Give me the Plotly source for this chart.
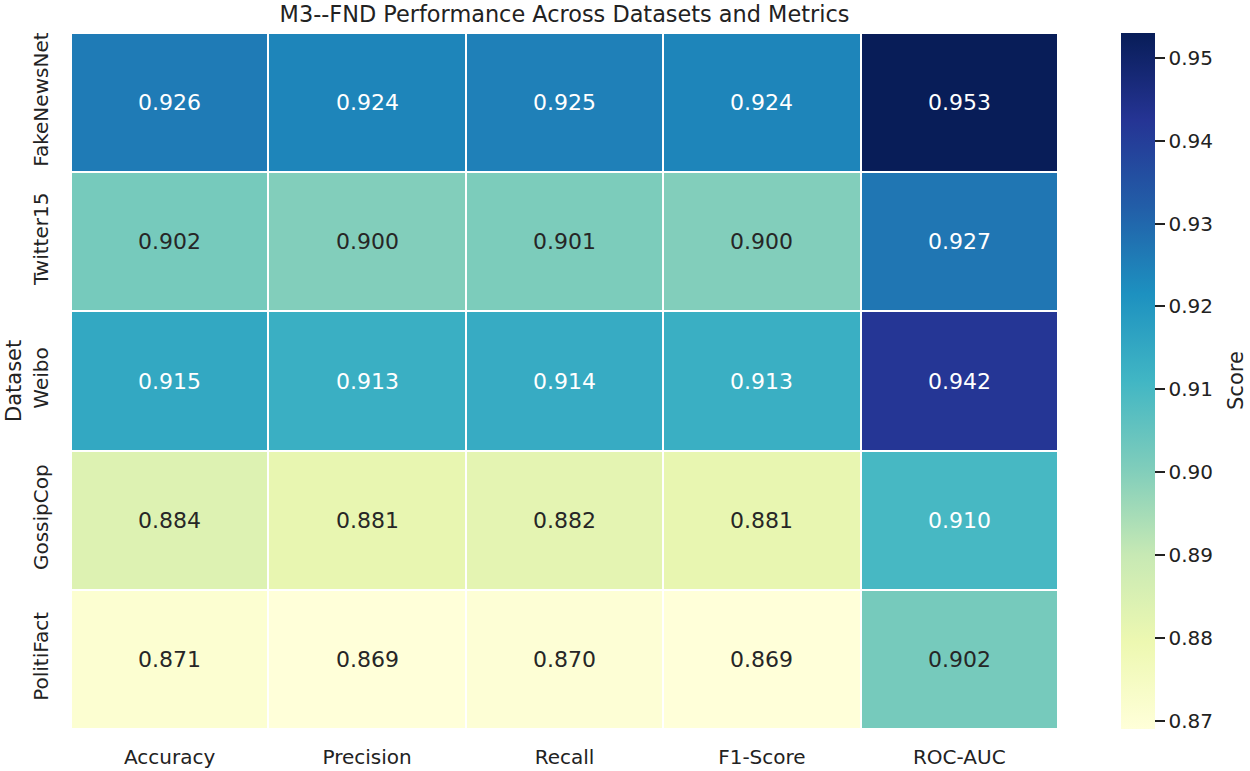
import plotly.graph_objects as go

datasets = ["FakeNewsNet", "Twitter15", "Weibo", "GossipCop", "PolitiFact"]
metrics = ["Accuracy", "Precision", "Recall", "F1-Score", "ROC-AUC"]
scores = [
    [0.926, 0.924, 0.925, 0.924, 0.953],
    [0.902, 0.900, 0.901, 0.900, 0.927],
    [0.915, 0.913, 0.914, 0.913, 0.942],
    [0.884, 0.881, 0.882, 0.881, 0.910],
    [0.871, 0.869, 0.870, 0.869, 0.902],
]
zmin, zmax = 0.869, 0.953
cbar_ticks = [0.87, 0.88, 0.89, 0.90, 0.91, 0.92, 0.93, 0.94, 0.95]

ylgnbu = ['#ffffd9', '#edf8b1', '#c7e9b4', '#7fcdbb', '#41b6c4',
          '#1d91c0', '#225ea8', '#253494', '#081d58']
colorscale = [[i / (len(ylgnbu) - 1), c] for i, c in enumerate(ylgnbu)]

FONT = "DejaVu Sans"
TXT = "#222222"

W, H = 1250, 771
L, R, T, B = 71, 192, 33, 42
plot_w = W - L - R

fig = go.Figure(go.Heatmap(
    z=scores, x=metrics, y=datasets,
    colorscale=colorscale, zmin=zmin, zmax=zmax,
    xgap=2, ygap=2,
    colorbar=dict(
        thickness=34, len=1.0, lenmode="fraction", y=0.5, yanchor="middle", ypad=0,
        x=(1121 - L) / plot_w, xanchor="left", xref="paper", xpad=0,
        outlinewidth=0,
        ticks="outside", ticklen=10, tickwidth=1.8, tickcolor=TXT,
        tickvals=cbar_ticks, tickformat=".2f",
        tickfont=dict(family=FONT, size=20, color=TXT),
    ),
))

annotations = []
for i, d in enumerate(datasets):
    for j, m in enumerate(metrics):
        v = scores[i][j]
        annotations.append(dict(
            x=m, y=d, text=f"{v:.3f}", showarrow=False,
            font=dict(family=FONT, size=22, color="white" if v > 0.906 else "#262626"),
        ))
annotations.append(dict(
    text="Score", xref="paper", yref="paper", x=(1236 - L) / plot_w, y=0.5,
    xanchor="center", yanchor="middle", textangle=-90, showarrow=False,
    font=dict(family=FONT, size=21, color=TXT),
))
annotations.append(dict(
    text="Dataset", xref="paper", yref="paper", x=(14 - L) / plot_w, y=0.5,
    xanchor="center", yanchor="middle", textangle=-90, showarrow=False,
    font=dict(family=FONT, size=21, color=TXT),
))

fig.update_layout(
    width=W, height=H,
    margin=dict(l=L, r=R, t=T, b=B, autoexpand=False),
    plot_bgcolor="white", paper_bgcolor="white",
    title=dict(text="M3--FND Performance Across Datasets and Metrics",
               x=564.5 / W, xanchor="center", y=1 - 14 / H, yanchor="middle",
               font=dict(family=FONT, size=22.4, color=TXT)),
    annotations=annotations,
    xaxis=dict(showgrid=False, zeroline=False, ticks="", ticklabelstandoff=14,
               tickfont=dict(family=FONT, size=20, color=TXT)),
    yaxis=dict(showgrid=False, zeroline=False, autorange="reversed", ticks="",
               tickangle=-90, ticklabelstandoff=18,
               tickfont=dict(family=FONT, size=20, color=TXT)),
)

fig.write_html("out.html", config={"displayModeBar": False},
               post_script="document.body.style.margin='0';")
